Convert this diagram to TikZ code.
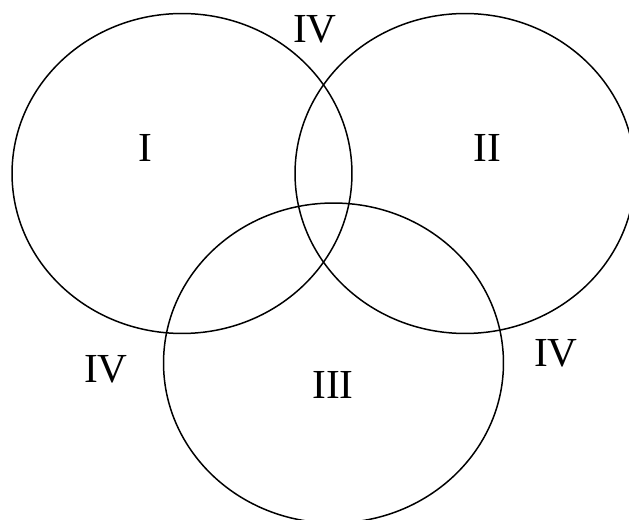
\documentclass[tikz,border=0pt]{standalone}
\usepackage{fontspec}
\setmainfont{Liberation Serif}
\usetikzlibrary{positioning}
\tikzset{
  vn diagram/.style={x=0.02cm, y=-0.02cm, line cap=round, line join=round},
  vn set/.style={draw=black, line width=0.85pt},
  vn label/.style={font=\fontsize{23.5}{28}\selectfont, inner sep=0pt}
}

\begin{document}
\begin{tikzpicture}[vn diagram]
\useasboundingbox (0,0) rectangle (629,520);
\clip (0,0) rectangle (629,520);
\foreach \cx/\cy in {182/173.5,465/173.5,333.5/363}
  \draw[vn set] (\cx,\cy) ellipse [x radius=3.4cm, y radius=3.2cm];
\node[vn label] (setI) at (145,148) {I};
\node[vn label] (setII) at (487,148) {II};
\node[vn label] (setIII) at (333,385) {III};
\node[vn label] (restTop) at (315,29) {IV};
\node[vn label] (restLeft) at (106,369) {IV};
\node[vn label] (restRight) at (556,353) {IV};
\end{tikzpicture}
\end{document}
